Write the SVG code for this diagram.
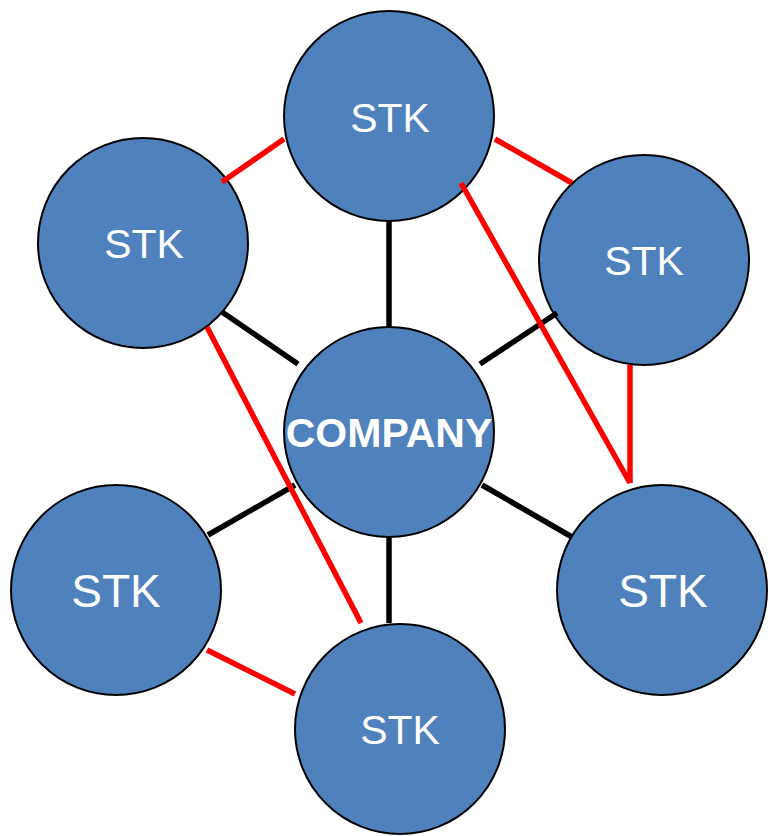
<svg xmlns="http://www.w3.org/2000/svg" width="770" height="836" viewBox="0 0 770 836">
  <style>
    .node { fill: #4F81BD; stroke: #000; stroke-width: 2; }
    .lbl { fill: #fff; font-family: "Liberation Sans", Arial, sans-serif; text-anchor: middle; }
    .hub { font-weight: bold; }
    .link { stroke: #000; stroke-width: 5.5; }
    .tie { stroke: #f00; stroke-width: 5.5; }
  </style>
  <rect width="770" height="836" fill="#fff"/>

  <g id="stk-top">
    <circle class="node" cx="389" cy="116" r="105"/>
    <text class="lbl" x="390" y="132" font-size="41">STK</text>
  </g>
  <g id="stk-left">
    <circle class="node" cx="143" cy="243" r="105"/>
    <text class="lbl" x="144" y="258" font-size="41">STK</text>
  </g>
  <g id="stk-right">
    <circle class="node" cx="644" cy="260" r="105"/>
    <text class="lbl" x="644" y="275" font-size="41">STK</text>
  </g>
  <g id="company">
    <circle class="node" cx="389" cy="432" r="105"/>
    <text class="lbl hub" x="389" y="447" font-size="41">COMPANY</text>
  </g>
  <g id="stk-bottom-left">
    <circle class="node" cx="116" cy="590" r="105"/>
    <text class="lbl" x="116" y="607" font-size="46">STK</text>
  </g>
  <g id="stk-bottom-right">
    <circle class="node" cx="662" cy="590" r="105"/>
    <text class="lbl" x="663" y="607" font-size="46">STK</text>
  </g>
  <g id="stk-bottom">
    <circle class="node" cx="400" cy="729" r="105"/>
    <text class="lbl" x="400" y="744" font-size="41">STK</text>
  </g>

  <g id="connectors">
    <!-- company to stakeholders -->
    <line class="link" x1="389" y1="221" x2="389" y2="327"/>
    <line class="link" x1="222" y1="312" x2="298" y2="364"/>
    <line class="link" x1="480" y1="364" x2="557" y2="313"/>
    <line class="link" x1="208" y1="535" x2="295" y2="485"/>
    <line class="link" x1="482" y1="485" x2="572" y2="537"/>
    <line class="link" x1="389" y1="537" x2="389" y2="623"/>
    <!-- stakeholder to stakeholder -->
    <line class="tie" x1="222" y1="182" x2="284" y2="139"/>
    <line class="tie" x1="495" y1="139" x2="572" y2="183"/>
    <line class="tie" x1="461" y1="183" x2="630" y2="483"/>
    <line class="tie" x1="630" y1="365" x2="630" y2="483"/>
    <line class="tie" x1="207" y1="327" x2="361" y2="623"/>
    <line class="tie" x1="207" y1="650" x2="295" y2="694"/>
  </g>
</svg>
